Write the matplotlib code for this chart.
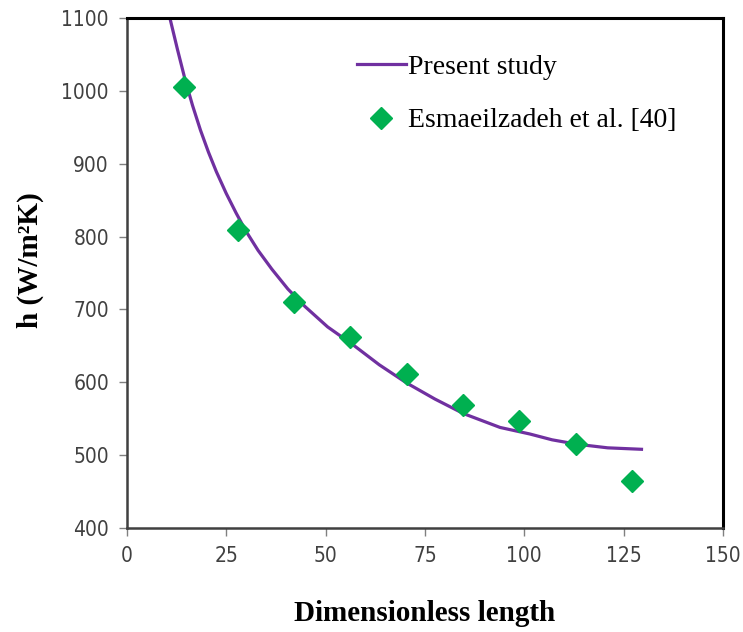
import matplotlib
matplotlib.use("Agg")
import matplotlib.pyplot as plt

# present study curve
curve_x = [10.8, 12.7, 14.6, 16.5, 18.5, 20.5, 22.5, 25.0, 27.5, 30.0, 33.0, 36.5,
           40.5, 44.8, 50.5, 57.0, 63.5, 70.4, 77.5, 84.7, 93.9, 101.4, 107.0,
           113.2, 121.0, 129.5]
curve_h = [1100, 1057, 1016, 980, 946, 916, 889, 859, 832, 807, 781, 755,
           728, 704, 676, 651, 624, 599, 577, 557, 538, 529, 521,
           515, 510, 508]

# Esmaeilzadeh et al. [40]
ref_x = [14.3, 27.9, 42.0, 56.1, 70.5, 84.6, 98.7, 113.0, 127.1]
ref_h = [1005, 809, 710, 662, 611, 569, 547, 515, 465]

xticks = [0, 25, 50, 75, 100, 125, 150]
yticks = [400, 500, 600, 700, 800, 900, 1000, 1100]

serif = "Liberation Serif"

fig = plt.figure(figsize=(7.43, 6.32), dpi=100)
ax = fig.add_axes([0.1709, 0.1646, 0.8021, 0.8069])

ax.plot(curve_x, curve_h, color="#7030A0", lw=2.3, label="Present study", zorder=2)
ax.plot(ref_x, ref_h, linestyle="none", marker="D", ms=11, color="#00B050",
        mec="#00B050", label="Esmaeilzadeh et al. [40]", zorder=3)

ax.set_xlim(0, 150)
ax.set_ylim(400, 1100)
ax.set_xticks(xticks)
ax.set_yticks(yticks)
ax.tick_params(direction="out", length=6, width=1, color="#808080",
               labelsize=15, labelcolor="#404040", pad=7)
for lab in ax.get_xticklabels() + ax.get_yticklabels():
    lab.set_fontfamily("DejaVu Sans")
    lab.set_fontstretch("condensed")

for side in ["top", "right"]:
    ax.spines[side].set_color("black")
    ax.spines[side].set_linewidth(2.2)
for side in ["left", "bottom"]:
    ax.spines[side].set_color("#404040")
    ax.spines[side].set_linewidth(1.8)

ax.set_xlabel("Dimensionless length", fontfamily=serif, fontweight="bold",
              fontsize=21)
ax.xaxis.set_label_coords(0.5, -0.141)
ax.set_ylabel("h (W/m\u00b2K)", fontfamily=serif, fontweight="bold", fontsize=21)
ax.yaxis.set_label_coords(-0.14, 0.525)

leg = ax.legend(loc="upper left", bbox_to_anchor=(0.386, 0.928), frameon=False,
                prop={"family": serif, "size": 20}, handlelength=1.75,
                handletextpad=0.1, labelspacing=1.0, borderpad=0,
                borderaxespad=0)

fig.savefig("out.png", dpi=100)
